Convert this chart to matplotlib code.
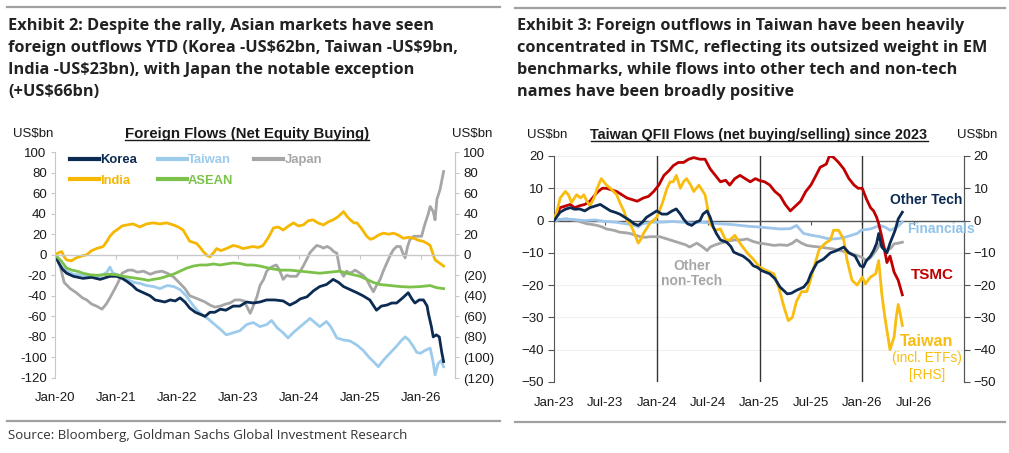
import matplotlib
matplotlib.use("Agg")
import matplotlib.pyplot as plt
from matplotlib.lines import Line2D

# ---------------- data: left chart (years since Jan-2020, US$bn) ----------------
korea_t = [0, 0.06, 0.12, 0.19, 0.3, 0.46, 0.6, 0.74, 0.9, 1.01, 1.1, 1.18, 1.27, 1.34, 1.45, 1.56, 1.64,
           1.72, 1.8, 1.89, 1.97, 2.05, 2.13, 2.21, 2.3, 2.38, 2.46, 2.54, 2.62, 2.71, 2.8, 2.92, 3.03,
           3.14, 3.25, 3.36, 3.47, 3.6, 3.74, 3.85, 3.95, 4.02, 4.13, 4.24, 4.34, 4.45, 4.56, 4.65, 4.73,
           4.84, 4.95, 5.05, 5.16, 5.27, 5.35, 5.44, 5.52, 5.6, 5.7, 5.79, 5.85, 5.9, 5.97, 6.04, 6.1,
           6.12, 6.17, 6.2, 6.25, 6.3, 6.34, 6.37]
korea_v = [0, -8, -14, -18, -21, -23, -22, -24, -21, -21, -23, -26, -30, -34, -37, -40, -44,
           -45, -46, -44, -45, -42, -46, -52, -56, -58, -60, -56, -56, -53, -54, -50, -50,
           -46, -47, -46, -44, -44, -45, -49, -46, -43, -41, -35, -31, -29, -24, -27, -31,
           -34, -37, -40, -44, -54, -50, -49, -47, -47, -42, -37, -43, -47, -44, -44, -50,
           -57, -70, -80, -78, -80, -95, -104]

taiwan_t = [0, 0.08, 0.19, 0.3, 0.46, 0.6, 0.74, 0.85, 0.9, 0.95, 1.05, 1.18, 1.3, 1.4, 1.5, 1.62, 1.72,
            1.84, 1.95, 2.05, 2.15, 2.21, 2.3, 2.38, 2.5, 2.6, 2.7, 2.81, 2.92, 3.03, 3.14, 3.25, 3.36,
            3.47, 3.55, 3.64, 3.74, 3.82, 3.92, 4.02, 4.1, 4.18, 4.26, 4.34, 4.45, 4.52, 4.62, 4.73,
            4.84, 4.95, 5.05, 5.15, 5.22, 5.3, 5.38, 5.44, 5.52, 5.6, 5.67, 5.74, 5.8, 5.87, 5.93,
            5.99, 6.07, 6.15, 6.2, 6.23, 6.28, 6.33, 6.37]
taiwan_v = [0, -10, -16, -19, -20, -21, -21, -17, -12, -18, -20, -24, -27, -28, -30, -31, -33,
            -30, -31, -34, -40, -45, -52, -57, -62, -67, -72, -78, -76, -74, -68, -66, -70,
            -68, -64, -71, -76, -81, -75, -70, -66, -62, -66, -70, -65, -70, -81, -83,
            -84, -88, -93, -100, -104, -109, -103, -99, -94, -89, -84, -80, -83, -89, -95,
            -96, -93, -91, -105, -117, -106, -103, -109]

japan_t = [0, 0.08, 0.15, 0.25, 0.35, 0.45, 0.52, 0.6, 0.68, 0.77, 0.84, 0.9, 1.0, 1.05, 1.1, 1.2, 1.27,
           1.35, 1.45, 1.56, 1.65, 1.75, 1.84, 1.95, 2.05, 2.13, 2.21, 2.3, 2.38, 2.46, 2.54, 2.62, 2.71,
           2.8, 2.87, 2.95, 3.03, 3.1, 3.2, 3.25, 3.31, 3.36, 3.42, 3.47, 3.52, 3.58, 3.63, 3.68, 3.74,
           3.8, 3.85, 3.96, 4.02, 4.07, 4.13, 4.18, 4.24, 4.29, 4.35, 4.4, 4.46, 4.51, 4.57, 4.62, 4.67,
           4.73, 4.78, 4.84, 4.92, 5.0, 5.05, 5.11, 5.16, 5.22, 5.27, 5.33, 5.38, 5.44, 5.5, 5.55, 5.6,
           5.66, 5.7, 5.74, 5.78, 5.82, 5.88, 5.93, 6.01, 6.04, 6.07, 6.12, 6.15, 6.2, 6.23, 6.26, 6.31,
           6.34, 6.37]
japan_v = [0, -10, -27, -33, -37, -42, -44, -48, -50, -53, -48, -42, -31, -25, -18, -15, -15,
           -17, -16, -19, -17, -16, -18, -22, -28, -33, -40, -42, -44, -46, -49, -51, -50,
           -48, -47, -44, -44, -45, -57, -50, -41, -30, -24, -16, -13, -11, -10, -15, -24,
           -20, -21, -21, -16, -11, -4, 2, 6, 9, 8, 6.5, 8, 6.5, 3, 1.6, -15,
           -21, -16, -18, -15, -18, -20, -24, -30, -36, -30, -24, -16, -8, 0, 5, 8,
           8, 2, -3, 8, 15, 18, 18, 18, 25, 31, 40, 47, 42, 34, 54, 63,
           72, 81]

india_t = [0, 0.06, 0.11, 0.15, 0.19, 0.27, 0.35, 0.45, 0.52, 0.6, 0.68, 0.79, 0.85, 0.9, 0.96, 1.01,
           1.1, 1.18, 1.28, 1.39, 1.5, 1.61, 1.72, 1.83, 1.94, 2.02, 2.1, 2.16, 2.21, 2.27, 2.32, 2.38,
           2.43, 2.5, 2.54, 2.6, 2.65, 2.72, 2.81, 2.92, 3.0, 3.08, 3.16, 3.25, 3.33, 3.41, 3.5, 3.58,
           3.66, 3.74, 3.83, 3.91, 3.99, 4.07, 4.15, 4.23, 4.31, 4.4, 4.48, 4.56, 4.64, 4.73, 4.79,
           4.84, 4.9, 4.95, 5.03, 5.11, 5.17, 5.22, 5.3, 5.38, 5.47, 5.55, 5.63, 5.71, 5.8, 5.88,
           5.96, 6.04, 6.1, 6.15, 6.2, 6.23, 6.3, 6.37]
india_v = [0, 2, 3, -2, -5, -6, -3, -1, 0, 4, 6, 8, 13, 18, 22, 24,
           28, 29, 30, 27, 30, 31, 30, 31, 29, 27, 24, 18, 13, 12, 11, 7,
           3, -1, -2, 2, 6, 4, 6, 9, 8, 6, 7, 8, 7, 9, 17, 26,
           27, 24, 28, 31, 28, 29, 33, 34, 31, 29, 32, 34, 37, 42, 37,
           34, 31, 31, 25, 18, 15, 16, 19, 21, 20, 21, 19, 16, 17, 16,
           14, 13, 11, 9, 0, -5, -8, -11]

asean_t = [0, 0.1, 0.19, 0.28, 0.36, 0.46, 0.57, 0.68, 0.79, 0.9, 1.01, 1.12, 1.23, 1.34, 1.45, 1.53,
           1.61, 1.72, 1.83, 1.94, 2.05, 2.16, 2.27, 2.38, 2.49, 2.6, 2.7, 2.81, 2.92, 3.03, 3.14, 3.25,
           3.36, 3.5, 3.69, 3.85, 4.02, 4.18, 4.34, 4.5, 4.67, 4.78, 4.89, 5.0, 5.11, 5.22, 5.33, 5.5,
           5.66, 5.82, 5.99, 6.15, 6.25, 6.37]
asean_v = [0, -6, -13, -15, -16, -18, -19.5, -20, -19.5, -19, -19.5, -21, -22, -23, -24, -25,
           -24, -23, -21, -19, -16, -13, -11, -10, -10, -9, -10, -9, -8, -8.5, -10, -10,
           -11, -13, -15, -15, -16, -17, -18, -17, -16, -18, -19.5, -21, -24, -27, -29, -30,
           -31, -31.5, -31, -30, -32, -33]

left_start = 2020
left_ticks = ["Jan-20", "Jan-21", "Jan-22", "Jan-23", "Jan-24", "Jan-25", "Jan-26"]
left_yticks = [100, 80, 60, 40, 20, 0, -20, -40, -60, -80, -100, -120]
left_ylabels_rhs = ["100", "80", "60", "40", "20", "0", "(20)", "(40)", "(60)", "(80)", "(100)", "(120)"]

# ---------------- data: right chart (years since Jan-2023, US$bn) ----------------
tsmc_t = [0, 0.03, 0.06, 0.11, 0.16, 0.2, 0.25, 0.3, 0.35, 0.4, 0.43, 0.47, 0.51, 0.56, 0.61, 0.66, 0.71,
          0.76, 0.81, 0.84, 0.87, 0.92, 0.97, 1.02, 1.07, 1.12, 1.16, 1.21, 1.26, 1.31, 1.36, 1.42, 1.47,
          1.52, 1.57, 1.62, 1.67, 1.71, 1.76, 1.81, 1.86, 1.91, 1.96, 2.0, 2.05, 2.1, 2.15, 2.2, 2.25,
          2.3, 2.35, 2.4, 2.45, 2.5, 2.55, 2.59, 2.65, 2.68, 2.72, 2.77, 2.82, 2.87, 2.92, 2.96, 3.0,
          3.04, 3.08, 3.11, 3.14, 3.16, 3.19, 3.21, 3.24, 3.27, 3.31, 3.35, 3.39]
tsmc_v = [0, 2, 4, 4.5, 5, 4, 4.6, 5, 6, 8, 9, 10, 10, 9.5, 9, 8, 7,
          6.5, 6, 6.5, 7, 7.5, 9, 11, 14, 15.5, 17, 18, 18, 19, 19.5, 19, 19,
          16, 14, 12, 12.5, 11, 13, 14, 13, 12, 13, 12.4, 12, 11, 9, 7.7, 5,
          3, 4.5, 6, 9, 11, 14, 16.5, 17.5, 20, 19.6, 18, 16, 13, 11, 10, 10,
          6.7, 4, 3, 1, -1, -5, -8, -13, -11, -16, -18.5, -23]

twn_t = [0, 0.03, 0.06, 0.11, 0.14, 0.17, 0.22, 0.26, 0.29, 0.32, 0.35, 0.39, 0.42, 0.46, 0.51, 0.55,
         0.58, 0.61, 0.64, 0.68, 0.71, 0.74, 0.77, 0.82, 0.85, 0.87, 0.93, 1.0, 1.05, 1.1, 1.13, 1.16,
         1.19, 1.23, 1.26, 1.29, 1.33, 1.36, 1.41, 1.45, 1.47, 1.5, 1.52, 1.57, 1.62, 1.67, 1.71, 1.76,
         1.81, 1.88, 1.94, 2.0, 2.07, 2.14, 2.19, 2.24, 2.28, 2.32, 2.36, 2.41, 2.46, 2.5, 2.53, 2.58,
         2.64, 2.69, 2.72, 2.77, 2.82, 2.85, 2.9, 2.95, 3.0, 3.03, 3.08, 3.13, 3.16, 3.19, 3.22, 3.26,
         3.27, 3.31, 3.33, 3.35, 3.37, 3.39]
twn_v = [0, 3, 7, 9, 8, 5.6, 8, 7, 8, 6, 4.6, 7, 10, 13, 11, 10,
         9, 8, 5.6, 3, 0, -1, -3, -7, -5.5, -4, -1, 1, 5, 10, 12, 12,
         14, 10, 12, 13, 11, 9, 11, 9, 8, 3, -1, -3, -2.6, -6, -6, -4.6,
         -7, -10, -12, -14.4, -15.5, -16.5, -21, -27, -31, -30, -25, -22, -22, -18, -14.4, -9,
         -7, -6, -3, -3, -6, -12, -18.5, -20, -17.5, -19.6, -17.5, -16.5, -12.4, -22.7, -30, -38,
         -40, -36, -30, -26, -29, -32.5]

otech_t = [0, 0.06, 0.11, 0.16, 0.2, 0.25, 0.3, 0.35, 0.4, 0.45, 0.5, 0.55, 0.6, 0.64, 0.69, 0.74, 0.78,
           0.82, 0.86, 0.9, 0.95, 1.0, 1.05, 1.1, 1.15, 1.19, 1.23, 1.26, 1.3, 1.34, 1.38, 1.42, 1.45,
           1.49, 1.52, 1.55, 1.58, 1.62, 1.68, 1.72, 1.75, 1.8, 1.84, 1.9, 1.94, 1.98, 2.02, 2.06, 2.1,
           2.15, 2.2, 2.27, 2.31, 2.36, 2.43, 2.47, 2.5, 2.56, 2.62, 2.69, 2.75, 2.82, 2.87, 2.93, 2.98,
           3.01, 3.04, 3.08, 3.11, 3.14, 3.16, 3.19, 3.24, 3.27, 3.32, 3.35, 3.39]
otech_v = [0, 2.6, 3.5, 4, 3.5, 3.6, 3, 4, 4.5, 5, 4, 3, 2.5, 2, 1, 0, -1,
           -1.5, -0.5, 1, 2, 3, 2, 2, 3, 3.6, 2, 0.5, -1, -1.5, -0.5, 0, 2,
           3, 1, -2, -4, -6, -6.7, -8, -9.8, -10.5, -11, -12.5, -14, -14.5, -15.5, -16, -16.5,
           -18, -20.6, -22.7, -22.5, -21.6, -20.6, -19, -16.5, -13, -12, -10, -9.3, -8.2, -10, -11, -14,
           -14.4, -12.4, -11, -9.3, -7, -4, -8.2, -10, -7, -3, 0.5, 2.6]

fin_t = [0, 0.1, 0.2, 0.3, 0.4, 0.5, 0.6, 0.7, 0.78, 0.82, 0.86, 0.95, 1.05, 1.15, 1.25, 1.35, 1.42,
         1.52, 1.62, 1.72, 1.81, 1.9, 2.0, 2.1, 2.2, 2.3, 2.36, 2.4, 2.43, 2.5, 2.59, 2.65, 2.72,
         2.78, 2.85, 2.9, 2.95, 2.99, 3.03, 3.08, 3.13, 3.17, 3.22, 3.27, 3.31, 3.34, 3.39]
fin_v = [0, 0.5, 0.3, 0, 0.2, -0.3, -0.5, -1, -1.5, -2, -1, -0.5, -0.5, -0.3, -0.5, -0.8, -0.5,
         -0.7, -1, -1.2, -1.5, -1.8, -2, -2.3, -2.6, -2.5, -1.5, -3, -4, -4.5, -5, -5.5, -5.7,
         -5.5, -5, -4.5, -4, -3, -2.8, -2.6, -2, -1.5, -2, -3, -2.5, -2, -0.5]

nontech_t = [0, 0.06, 0.12, 0.17, 0.22, 0.27, 0.32, 0.37, 0.42, 0.47, 0.51, 0.58, 0.64, 0.7, 0.74, 0.79,
             0.84, 0.89, 0.93, 0.98, 1.03, 1.08, 1.13, 1.18, 1.23, 1.28, 1.32, 1.36, 1.39, 1.44, 1.49,
             1.52, 1.57, 1.62, 1.68, 1.75, 1.82, 1.88, 1.94, 2.0, 2.07, 2.14, 2.2, 2.27, 2.32, 2.36,
             2.41, 2.46, 2.52, 2.59, 2.65, 2.72, 2.78, 2.85, 2.9, 2.95, 2.99, 3.04, 3.08, 3.11, 3.14,
             3.17, 3.2, 3.24, 3.28, 3.31, 3.35, 3.39]
nontech_v = [0, 0.3, 0.5, 0.2, 0, -0.5, -1, -1.2, -1.5, -2, -2.6, -3, -3.6, -3.8, -4, -4.5,
             -5, -5.2, -5, -5, -5, -5.5, -6, -6.5, -7, -7.5, -8.2, -7.5, -7, -8, -9.3,
             -8.2, -7.5, -7, -6.5, -6, -6, -5.7, -6.5, -7, -7.3, -7.7, -7.5, -7.7, -7, -6,
             -7, -7.7, -8, -8.2, -8.5, -8.8, -9.2, -9.8, -10.3, -10.8, -11.3, -12.4, -11.5, -10.3, -9,
             -7.2, -8, -9.3, -8.5, -7.2, -7, -6.7]

right_start = 2023
right_ticks = ["Jan-23", "Jul-23", "Jan-24", "Jul-24", "Jan-25", "Jul-25", "Jan-26", "Jul-26"]
right_yticks = [20, 10, 0, -10, -20, -30, -40, -50]
right_vlines = [2024, 2025, 2026]

# ---------------- styling ----------------
NAVY = "#0c2b53"
LBLUE = "#9ccbec"
GRAY = "#a6a6a6"
GOLD = "#f5b700"
GREEN = "#7cc24a"
RED = "#c00000"
TXT = "#1a1a1a"
CHART_FONT = ["Liberation Sans", "DejaVu Sans"]
HEAD_FONT = ["Open Sans", "DejaVu Sans"]

W, H = 1009, 453
fig = plt.figure(figsize=(W / 100, H / 100), dpi=100)
fig.patch.set_facecolor("white")
plt.rcParams["font.family"] = CHART_FONT


def fx(px):
    return px / W


def fy(py):
    return 1 - py / H


def hline(x0, x1, y, color="#a0a0a0", lw=1.6):
    fig.add_artist(Line2D([fx(x0), fx(x1)], [fy(y), fy(y)], color=color, lw=lw,
                          transform=fig.transFigure))


# frame rules
hline(7, 500, 7)
hline(515, 1005, 8)
hline(7, 500, 421)
hline(515, 1005, 422)

# exhibit headings
head2 = ["Exhibit 2: Despite the rally, Asian markets have seen",
         "foreign outflows YTD (Korea -US\\$62bn, Taiwan -US\\$9bn,",
         "India -US\\$23bn), with Japan the notable exception",
         "(+US\\$66bn)"]
head3 = ["Exhibit 3: Foreign outflows in Taiwan have been heavily",
         "concentrated in TSMC, reflecting its outsized weight in EM",
         "benchmarks, while flows into other tech and non-tech",
         "names have been broadly positive"]
for i, line in enumerate(head2):
    fig.text(fx(8), fy(30 + 22 * i), line, fontsize=11.8, fontweight="bold", family=HEAD_FONT,
             color="#222222", va="baseline", ha="left")
for i, line in enumerate(head3):
    fig.text(fx(517), fy(30 + 22 * i), line, fontsize=11.7, fontweight="bold", family=HEAD_FONT,
             color="#222222", va="baseline", ha="left")

fig.text(fx(8), fy(436), "Source: Bloomberg, Goldman Sachs Global Investment Research",
         fontsize=9.5, family=HEAD_FONT, color="#333333", va="center", ha="left")

# ---------------- left chart ----------------
axL = fig.add_axes([fx(55), fy(378), fx(455) - fx(55), fy(152) - fy(378)])
axL.set_facecolor("none")
series_left = [
    ("Japan", japan_t, japan_v, GRAY),
    ("Taiwan", taiwan_t, taiwan_v, LBLUE),
    ("Korea", korea_t, korea_v, NAVY),
    ("ASEAN", asean_t, asean_v, GREEN),
    ("India", india_t, india_v, GOLD),
]
handles = {}
for name, ts, vs, col in series_left:
    h, = axL.plot([left_start + t for t in ts], vs, color=col, lw=2.0, label=name,
                  solid_joinstyle="round")
    handles[name] = h
axL.set_xlim(left_start, left_start + 6.557)
axL.set_ylim(-120, 100)
axL.set_yticks(left_yticks)
axL.set_yticklabels([str(v) for v in left_yticks])
axL.spines["top"].set_visible(False)
axL.spines["left"].set_color("#c8c8c8")
axL.spines["right"].set_color("#c8c8c8")
axL.spines["bottom"].set_position(("data", 0))
axL.spines["bottom"].set_color("#c8c8c8")
axL.spines["bottom"].set_linewidth(1.0)
axL.set_xticks([left_start + i for i in range(len(left_ticks))])
axL.tick_params(axis="x", direction="out", length=3, color="#c8c8c8", labelbottom=False)
axL.tick_params(axis="y", direction="out", length=3, color="#c8c8c8", labelsize=9.5,
                labelcolor=TXT, pad=3)
secL = axL.secondary_xaxis("bottom")
secL.set_xticks([left_start + i for i in range(len(left_ticks))])
secL.set_xticklabels(left_ticks)
secL.tick_params(length=0, labelsize=9.5, labelcolor=TXT, pad=10)
secL.spines["bottom"].set_visible(False)

axL2 = axL.twinx()
axL2.set_ylim(-120, 100)
axL2.set_yticks(left_yticks)
axL2.set_yticklabels(left_ylabels_rhs)
axL2.tick_params(axis="y", direction="out", length=3, color="#c8c8c8", labelsize=9.5,
                 labelcolor=TXT, pad=3)
for s in ["top", "left", "bottom"]:
    axL2.spines[s].set_visible(False)
axL2.spines["right"].set_color("#c8c8c8")

order = ["Korea", "India", "Taiwan", "ASEAN", "Japan"]
leg = axL.legend([handles[n] for n in order], order, ncol=3, loc="upper left",
                 bbox_to_anchor=(0.038, 0.99), frameon=False, borderaxespad=0, borderpad=0,
                 handlelength=2.2, handletextpad=0.1, columnspacing=1.6, labelspacing=0.62,
                 prop={"family": CHART_FONT, "weight": "bold", "size": 9.4})
for txt, n in zip(leg.get_texts(), order):
    txt.set_color(handles[n].get_color())
for lh in leg.legend_handles:
    lh.set_linewidth(3.0)

fig.text(fx(13), fy(134), "US$bn", fontsize=9.5, color=TXT, va="center", ha="left")
fig.text(fx(492), fy(134), "US$bn", fontsize=9.5, color=TXT, va="center", ha="right")
tL = fig.text(fx(247), fy(134), "Foreign Flows (Net Equity Buying)", fontsize=10.8,
              fontweight="bold", color=TXT, va="center", ha="center")

# ---------------- right chart ----------------
axR = fig.add_axes([fx(554), fy(382), fx(964) - fx(554), fy(156) - fy(382)])
axR.set_facecolor("none")
axR.set_xlim(right_start, right_start + 3.99)
axR.set_ylim(-50, 20)
axR.set_yticks(right_yticks)
axR.grid(axis="y", color="#f0f0f0", lw=0.8)
axR.set_axisbelow(True)
for v in right_vlines:
    axR.axvline(v, color="#333333", lw=1.0, zorder=1)
series_right = [
    (nontech_t, nontech_v, GRAY),
    (fin_t, fin_v, "#9dc6ea"),
    (tsmc_t, tsmc_v, RED),
    (twn_t, twn_v, "#f9bd10"),
    (otech_t, otech_v, NAVY),
]
for ts, vs, col in series_right:
    axR.plot([right_start + t for t in ts], vs, color=col, lw=2.0, solid_joinstyle="round", zorder=3)
axR.spines["top"].set_visible(False)
axR.spines["left"].set_color("#555555")
axR.spines["right"].set_color("#555555")
axR.spines["bottom"].set_position(("data", 0))
axR.spines["bottom"].set_color("#555555")
axR.spines["bottom"].set_linewidth(1.0)
axR.spines["bottom"].set_zorder(2)
xt = [right_start + 0.5 * i for i in range(len(right_ticks))]
axR.set_xticks(xt)
axR.tick_params(axis="x", direction="out", length=3, color="#555555", labelbottom=False)
axR.tick_params(axis="y", direction="out", length=4, color="#555555", labelsize=9.5,
                labelcolor=TXT, pad=3)
secR = axR.secondary_xaxis("bottom")
secR.set_xticks(xt)
secR.set_xticklabels(right_ticks)
secR.tick_params(length=0, labelsize=9.5, labelcolor=TXT, pad=11)
secR.spines["bottom"].set_visible(False)

axR2 = axR.twinx()
axR2.set_ylim(-50, 20)
axR2.set_yticks(right_yticks)
axR2.tick_params(axis="y", direction="out", length=4, color="#555555", labelsize=9.5,
                 labelcolor=TXT, pad=3)
for s in ["top", "left", "bottom"]:
    axR2.spines[s].set_visible(False)
axR2.spines["right"].set_color("#555555")

fig.text(fx(527), fy(135), "US$bn", fontsize=9.5, color=TXT, va="center", ha="left")
fig.text(fx(997), fy(135), "US$bn", fontsize=9.5, color=TXT, va="center", ha="right")
tR = fig.text(fx(759), fy(135), "Taiwan QFII Flows (net buying/selling) since 2023", fontsize=10.4,
              fontweight="bold", color=TXT, va="center", ha="center")


# series labels
def lab(px, py, s, color, size, weight="bold"):
    fig.text(fx(px), fy(py), s, color=color, fontsize=size, fontweight=weight,
             ha="center", va="center", zorder=10)


lab(926, 200, "Other Tech", NAVY, 10)
lab(941, 229, "Financials", "#8fc3ea", 10)
lab(932, 275, "TSMC", RED, 11)
lab(927, 342, "Taiwan", "#f9bd10", 11.5)
lab(927, 358, "(incl. ETFs)", "#f9bd10", 9.8, "normal")
lab(927, 375, "[RHS]", "#f9bd10", 9.8, "normal")
lab(692, 266, "Other", GRAY, 10)
lab(692, 281, "non-Tech", GRAY, 10)

# underline chart titles
fig.canvas.draw()
r = fig.canvas.get_renderer()
for t in (tL, tR):
    bb = t.get_window_extent(renderer=r)
    fig.add_artist(Line2D([bb.x0 / W, bb.x1 / W], [(bb.y0 + 1) / H, (bb.y0 + 1) / H],
                          color=TXT, lw=1.0, transform=fig.transFigure))

fig.savefig("out.png", dpi=100, facecolor="white")
